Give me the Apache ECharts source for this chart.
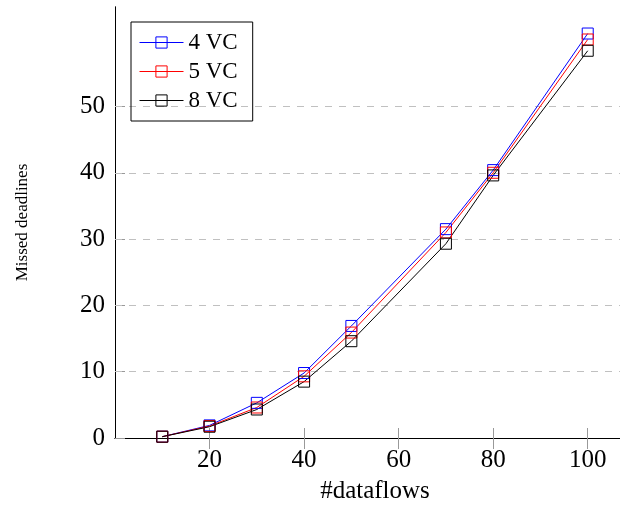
<!DOCTYPE html>
<html>
<head>
<meta charset="utf-8">
<script src="https://cdn.jsdelivr.net/npm/echarts@6/dist/echarts.min.js"></script>
<style>
  html, body { margin: 0; padding: 0; background: #fff; }
  #chart { width: 620px; height: 513px; }
</style>
</head>
<body>
<div id="chart"></div>
<script>
// missed deadlines vs number of dataflows
const flows = [10, 20, 30, 40, 50, 70, 80, 100]
const vc4 = [0.2, 1.9, 5.3, 9.8, 16.9, 31.5, 40.4, 61.0]
const vc5 = [0.2, 1.8, 4.6, 9.3, 15.9, 31.0, 40.0, 60.1]
const vc8 = [0.2, 1.7, 4.3, 8.5, 14.6, 29.3, 39.6, 58.4]
const xTicks = [20, 40, 60, 80, 100]
const yTicks = [0, 10, 20, 30, 40, 50]
const gridTicks = [10, 20, 30, 40, 50]

const font = 'Liberation Serif'
const tickColor = '#999'

const chart = echarts.init(document.getElementById('chart'), undefined, { renderer: 'canvas' })

const mk = (name, color, vals) => ({
  name,
  type: 'line',
  data: flows.map((x, i) => [x, vals[i]]),
  symbol: 'rect',
  symbolSize: 11,
  lineStyle: { color, width: 1 },
  itemStyle: { color: 'rgba(0,0,0,0)', borderColor: color, borderWidth: 1 },
  emphasis: { disabled: true },
  z: 3,
})

const series = [mk('4 VC', '#0000ff', vc4), mk('5 VC', '#ff0000', vc5), mk('8 VC', '#000000', vc8)]
// dashed horizontal grid lines
series[0].markLine = {
  silent: true,
  symbol: 'none',
  label: { show: false },
  lineStyle: { color: '#c0c0c0', type: [7, 7], width: 1 },
  data: gridTicks.map((v) => ({ yAxis: v })),
  z: 1,
}

const option = {
  animation: false,
  textStyle: { fontFamily: font },
  grid: { left: 115, right: -15, top: 7, bottom: 75, outerBoundsMode: 'none', containLabel: false },
  legend: {
    orient: 'vertical',
    left: 131,
    top: 22,
    padding: [9, 15, 9, 8],
    borderColor: '#000',
    borderWidth: 1,
    itemWidth: 44,
    itemHeight: 14,
    itemGap: 6,
    lineStyle: { width: 1 },
    itemStyle: { borderWidth: 1 },
    textStyle: { fontFamily: font, fontSize: 23, color: '#000', lineHeight: 22 },
    data: ['4 VC', '5 VC', '8 VC'],
  },
  xAxis: [
    {
      type: 'value',
      min: 0,
      max: 110,
      name: '#dataflows',
      nameLocation: 'middle',
      nameGap: 41,
      nameTextStyle: { fontFamily: font, fontSize: 25, color: '#000' },
      axisLine: { lineStyle: { color: '#000', width: 1 } },
      axisTick: { inside: true, length: 10, lineStyle: { color: tickColor }, customValues: xTicks },
      axisLabel: { fontFamily: font, fontSize: 25, color: '#000', margin: 10, customValues: xTicks },
      splitLine: { show: false },
    },
    {
      type: 'value',
      position: 'top',
      min: 0,
      max: 110,
      axisLine: { lineStyle: { color: '#000', width: 1 } },
      axisTick: { inside: true, length: 11, lineStyle: { color: tickColor }, customValues: xTicks },
      axisLabel: { show: false },
      splitLine: { show: false },
    },
  ],
  yAxis: [
    {
      type: 'value',
      min: 0,
      max: 65,
      name: 'Missed deadlines',
      nameLocation: 'middle',
      nameGap: 84,
      nameTextStyle: { fontFamily: font, fontSize: 17, color: '#000' },
      axisLine: { show: true, lineStyle: { color: '#000', width: 1 } },
      axisTick: { inside: true, length: 10, lineStyle: { color: tickColor }, customValues: yTicks },
      axisLabel: { fontFamily: font, fontSize: 25, color: '#000', margin: 10, customValues: yTicks },
      splitLine: { show: false },
    },
    {
      type: 'value',
      position: 'right',
      min: 0,
      max: 65,
      axisLine: { show: true, lineStyle: { color: '#000', width: 1 } },
      axisTick: { show: false },
      axisLabel: { show: false },
      splitLine: { show: false },
    },
  ],
  series,
}

chart.setOption(option)
</script>
</body>
</html>
